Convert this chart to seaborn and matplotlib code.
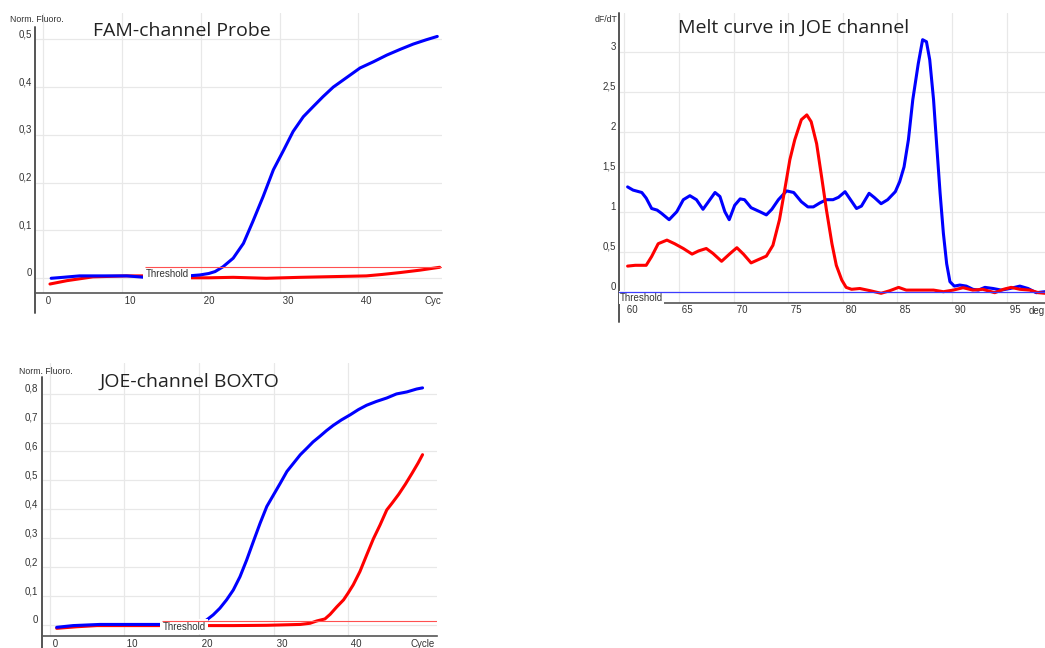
import seaborn as sns
import matplotlib.pyplot as plt
import numpy as np

W, H = 1045, 648
BLUE = "#0000ff"
RED = "#ff0000"
SPINE = "#555555"
GRID = "#e8e8e8"
TEXT = "#333333"

# ---- FAM-channel probe (amplification) ----
fam_blue_cycle = [1.0, 2.5, 4.6, 7.0, 10.6, 12.9, 14.0, 16.0, 18.4, 19.9, 21.0, 21.8, 22.8,
                  24.1, 25.4, 26.6, 27.9, 29.2, 30.5, 31.7, 33.0, 34.3, 35.5, 36.8, 38.5,
                  40.2, 41.9, 43.6, 45.3, 46.95, 48.6, 50.0]
fam_blue = [0.0, 0.002, 0.005, 0.005, 0.005, 0.002, 0.003, 0.004, 0.005, 0.007, 0.010, 0.014,
            0.024, 0.042, 0.073, 0.119, 0.171, 0.227, 0.268, 0.307, 0.338, 0.36, 0.38, 0.40,
            0.42, 0.44, 0.453, 0.467, 0.479, 0.49, 0.499, 0.506]
fam_red_cycle = [0.85, 3.0, 6.3, 8.5, 10.5, 12.9, 15.0, 18.4, 21.0, 24.1, 28.3, 32.6, 36.8,
                 41.0, 43.0, 45.3, 47.8, 50.3]
fam_red = [-0.012, -0.005, 0.003, 0.004, 0.005, 0.005, 0.003, 0.001, 0.001, 0.002, 0.0,
           0.002, 0.0035, 0.005, 0.008, 0.012, 0.017, 0.023]
fam_threshold = 0.023
fam_threshold_start = 12.9
fam_yticks = [0, 0.1, 0.2, 0.3, 0.4, 0.5]
fam_ylabels = ["0", "0,1", "0,2", "0,3", "0,4", "0,5"]
fam_xticks = [0, 10, 20, 30, 40]

# ---- Melt curve in JOE channel ----
melt_blue_t = [60.3, 60.8, 61.6, 62.0, 62.5, 63.0, 63.4, 64.1, 64.8, 65.4, 66.0, 66.6, 67.2,
               67.7, 68.3, 68.75, 69.2, 69.6, 70.1, 70.6, 71.0, 71.6, 72.4, 73.0, 73.5, 74.1,
               74.85, 75.5, 76.2, 76.8, 77.3, 77.9, 78.5, 79.1, 79.6, 80.2, 80.6, 81.25, 81.7,
               82.4, 82.9, 83.5, 84.1, 84.8, 85.2, 85.6, 86.0, 86.4, 86.9, 87.3, 87.65, 87.95,
               88.3, 88.6, 88.9, 89.2, 89.5, 89.8, 90.2, 90.7, 91.3, 91.9, 92.4, 93.0, 93.75,
               94.5, 95.3, 96.2, 96.95, 97.7, 98.5]
melt_blue = [1.31, 1.27, 1.24, 1.17, 1.04, 1.02, 0.98, 0.90, 1.0, 1.15, 1.20, 1.15, 1.03,
             1.125, 1.24, 1.19, 1.0, 0.90, 1.08, 1.16, 1.15, 1.05, 1.0, 0.96, 1.03, 1.15,
             1.26, 1.24, 1.125, 1.06, 1.06, 1.11, 1.15, 1.15, 1.18, 1.25, 1.17, 1.04, 1.07,
             1.23, 1.175, 1.10, 1.15, 1.25, 1.375, 1.56, 1.90, 2.40, 2.85, 3.15, 3.125, 2.90,
             2.40, 1.81, 1.23, 0.73, 0.35, 0.125, 0.07, 0.083, 0.07, 0.03, 0.02, 0.054, 0.04,
             0.02, 0.04, 0.07, 0.04, -0.0125, 0.0]
melt_red_t = [60.3, 61.0, 62.0, 62.5, 63.1, 63.9, 64.6, 65.4, 66.2, 66.8, 67.5, 68.1, 68.9,
              69.7, 70.3, 70.9, 71.6, 72.25, 73.0, 73.6, 74.2, 74.7, 75.15, 75.6, 76.2, 76.7,
              77.1, 77.6, 78.05, 78.5, 79.0, 79.4, 79.9, 80.3, 80.8, 81.55, 82.5, 83.5, 84.3,
              85.1, 85.8, 87.0, 88.3, 89.2, 90.1, 91.0, 91.9, 92.8, 93.9, 94.7, 95.4, 96.2,
              97.1, 97.9, 98.5]
melt_red = [0.32, 0.33, 0.33, 0.44, 0.60, 0.645, 0.60, 0.54, 0.47, 0.51, 0.54, 0.48, 0.38,
            0.48, 0.55, 0.47, 0.36, 0.40, 0.445, 0.58, 0.90, 1.29, 1.65, 1.90, 2.15, 2.21,
            2.125, 1.85, 1.44, 1.02, 0.60, 0.33, 0.146, 0.054, 0.03, 0.04, 0.0125, -0.02,
            0.0125, 0.054, 0.02, 0.02, 0.02, 0.0, 0.02, 0.05, 0.02, 0.03, -0.0125, 0.03,
            0.054, 0.03, 0.02, -0.0125, -0.02]
melt_threshold = 0.0
melt_yticks = [0, 0.5, 1, 1.5, 2, 2.5, 3]
melt_ylabels = ["0", "0,5", "1", "1,5", "2", "2,5", "3"]
melt_xticks = [60, 65, 70, 75, 80, 85, 90, 95]

# ---- JOE-channel BOXTO (amplification) ----
joe_blue_cycle = [0.9, 3.1, 6.7, 11.2, 14.8, 17.0, 20.1, 21.0, 21.9, 22.8, 23.7, 24.6, 25.5,
                  26.4, 27.3, 28.2, 29.1, 30.0, 30.9, 31.8, 32.7, 33.6, 34.5, 35.3, 36.2,
                  37.1, 38.0, 39.1, 40.3, 41.4, 42.5, 43.8, 45.2, 46.5, 47.9, 49.2, 50.0]
joe_blue = [-0.008, -0.002, 0.002, 0.002, 0.002, 0.003, 0.006, 0.017, 0.035, 0.058, 0.087,
            0.121, 0.167, 0.225, 0.289, 0.352, 0.41, 0.45, 0.49, 0.531, 0.56, 0.589, 0.612,
            0.633, 0.652, 0.672, 0.69, 0.709, 0.727, 0.745, 0.76, 0.773, 0.785, 0.799,
            0.806, 0.816, 0.82]
joe_red_cycle = [0.9, 3.6, 6.3, 10.0, 15.0, 20.1, 24.6, 29.1, 33.6, 34.9, 35.8, 36.9, 37.6,
                 38.5, 39.4, 40.0, 40.7, 41.6, 42.5, 43.4, 44.3, 45.2, 45.9, 46.8, 47.7,
                 48.6, 49.4, 50.0]
joe_red = [-0.0115, -0.006, -0.002, -0.002, -0.002, -0.002, -0.002, -0.001, 0.002, 0.006,
           0.014, 0.021, 0.037, 0.063, 0.087, 0.11, 0.139, 0.185, 0.242, 0.298, 0.346,
           0.398, 0.421, 0.452, 0.487, 0.525, 0.56, 0.589]
joe_threshold = 0.014
joe_threshold_start = 15.0
joe_yticks = [0, 0.1, 0.2, 0.3, 0.4, 0.5, 0.6, 0.7, 0.8]
joe_ylabels = ["0", "0,1", "0,2", "0,3", "0,4", "0,5", "0,6", "0,7", "0,8"]
joe_xticks = [0, 10, 20, 30, 40]


def box(left, top, right, bottom):
    # pixel box -> figure fraction rect
    return [left / W, 1 - bottom / H, (right - left) / W, (bottom - top) / H]


def style_axes(ax, xticks, yticks, ylabels, spine_top, spine_bottom):
    ax.set_facecolor("white")
    for s in ["top", "right", "left"]:
        ax.spines[s].set_visible(False)
    ax.spines["bottom"].set_color(SPINE)
    ax.spines["bottom"].set_linewidth(1.2)
    ax.plot([0, 0], [spine_bottom, spine_top], transform=ax.transAxes, color=SPINE,
            lw=1.4, clip_on=False, zorder=3)
    ax.grid(True, color=GRID, lw=0.9)
    ax.set_axisbelow(True)
    ax.set_xticks(xticks)
    ax.set_xticklabels([" %d" % t for t in xticks])
    ax.set_yticks(yticks)
    ax.set_yticklabels(ylabels)
    ax.tick_params(axis="x", direction="out", length=3.5, width=0.8, pad=-1.5,
                   colors=SPINE, labelcolor=TEXT, labelsize=7)
    ax.tick_params(axis="y", direction="out", length=2, width=0.8, pad=0.5,
                   colors=SPINE, labelcolor=TEXT, labelsize=7)
    for lab in ax.get_xticklabels():
        lab.set_ha("left")
    for lab in ax.get_yticklabels():
        lab.set_va("bottom")
    ax.set_xlabel("")
    ax.set_ylabel("")


def threshold_label(ax, x, y, pad=0.25):
    ax.text(x, y, "Threshold", ha="left", va="top", fontsize=7, color=TEXT, zorder=5,
            bbox=dict(boxstyle="square,pad=%g" % pad, facecolor="white", edgecolor="none"))


sns.set_theme(style="white")
plt.rcParams["font.family"] = ["Liberation Sans", "DejaVu Sans"]
title_font = dict(family="Open Sans", fontsize=14, color="#222222")

fig = plt.figure(figsize=(W / 100, H / 100), dpi=100)
fig.patch.set_facecolor("white")

# FAM panel
ax1 = fig.add_axes(box(35, 13, 441.7, 293))
sns.lineplot(x=fam_red_cycle, y=fam_red, ax=ax1, color=RED, lw=2.2, sort=False, estimator=None)
sns.lineplot(x=fam_blue_cycle, y=fam_blue, ax=ax1, color=BLUE, lw=2.2, sort=False, estimator=None)
ax1.set_xlim(-1.05, 50.56)
ax1.set_ylim(-0.0308, 0.555)
ax1.hlines(fam_threshold, fam_threshold_start, 50.56, color="#ff5050", lw=0.8, zorder=6)
threshold_label(ax1, fam_threshold_start + 0.1, fam_threshold - 0.003)
style_axes(ax1, fam_xticks, fam_yticks, fam_ylabels, 0.95, -0.072)
ax1.annotate("Cyc", xy=(1, 0), xycoords="axes fraction", xytext=(0, -2.5),
             textcoords="offset points", ha="right", va="top", fontsize=7, color=TEXT)
fig.text(10 / W, 1 - 19.5 / H, "Norm. Fluoro.", fontsize=6.3, color=TEXT, va="center")
fig.text(93 / W, 1 - 31 / H, "FAM-channel Probe", va="center", **title_font)

# Melt panel
ax2 = fig.add_axes(box(619.3, 13.3, 1045, 302.7))
sns.lineplot(x=melt_blue_t, y=melt_blue, ax=ax2, color=BLUE, lw=2.2, sort=False, estimator=None)
sns.lineplot(x=melt_red_t, y=melt_red, ax=ax2, color=RED, lw=2.2, sort=False, estimator=None)
ax2.set_xlim(59.54, 98.5)
ax2.set_ylim(-0.1375, 3.48)
ax2.axhline(melt_threshold, color="#3c3cff", lw=0.9, zorder=6)
style_axes(ax2, melt_xticks, melt_yticks, melt_ylabels, 1.0, -0.066)
threshold_label(ax2, 59.6, melt_threshold - 0.01, pad=0.12)
ax2.annotate("deg", xy=(1.0, 0), xycoords="axes fraction", xytext=(0, -2.5),
             textcoords="offset points", ha="right", va="top", fontsize=7, color=TEXT)
fig.text(595 / W, 1 - 20 / H, "dF/dT", fontsize=6.3, color=TEXT, va="center")
fig.text(677.7 / W, 1 - 28 / H, "Melt curve in JOE channel", va="center", **title_font)

# JOE panel
ax3 = fig.add_axes(box(41.7, 363, 436.7, 636))
sns.lineplot(x=joe_red_cycle, y=joe_red, ax=ax3, color=RED, lw=2.2, sort=False, estimator=None)
sns.lineplot(x=joe_blue_cycle, y=joe_blue, ax=ax3, color=BLUE, lw=2.2, sort=False, estimator=None)
ax3.set_xlim(-1.11, 51.9)
ax3.set_ylim(-0.038, 0.906)
ax3.hlines(joe_threshold, joe_threshold_start, 51.9, color="#ff5050", lw=0.8, zorder=6)
threshold_label(ax3, joe_threshold_start + 0.1, joe_threshold - 0.002)
style_axes(ax3, joe_xticks, joe_yticks, joe_ylabels, 0.95, -0.045)
ax3.annotate("Cycle", xy=(0.995, 0), xycoords="axes fraction", xytext=(0, -2.5),
             textcoords="offset points", ha="right", va="top", fontsize=7, color=TEXT)
fig.text(19 / W, 1 - 371 / H, "Norm. Fluoro.", fontsize=6.3, color=TEXT, va="center")
fig.text(99 / W, 1 - 382 / H, "JOE-channel BOXTO", va="center", **title_font)

fig.savefig("out.png", dpi=100, facecolor="white")
plt.close(fig)
